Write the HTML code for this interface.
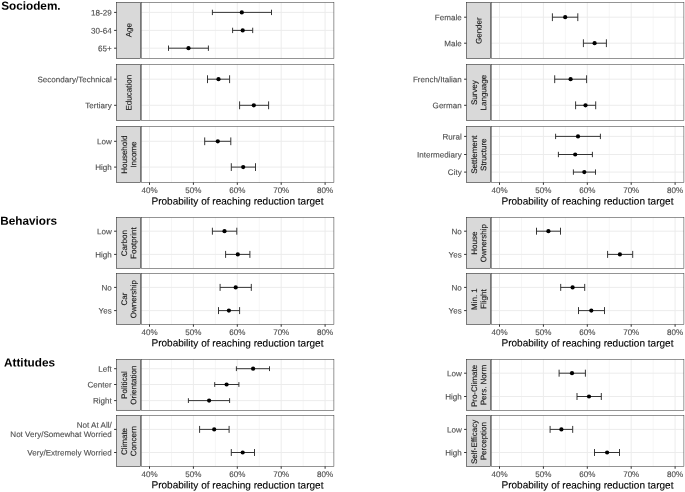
<!DOCTYPE html>
<html lang="en">
<head>
<meta charset="utf-8">
<title>Probability of reaching reduction target</title>
<style>
html,body{margin:0;padding:0;background:#fff;}
body{width:685px;height:492px;overflow:hidden;font-family:"Liberation Sans",Arial,Helvetica,sans-serif;}
svg{display:block;will-change:transform;}
svg text{text-rendering:geometricPrecision;}
svg text.a{stroke:#4d4d4d;stroke-width:0.12px;}
svg text.s{stroke:#1a1a1a;stroke-width:0.12px;}
svg text.t{stroke:#000;stroke-width:0.12px;}
</style>
</head>
<body>
<svg width="685" height="492" viewBox="0 0 685 492" font-family="'Liberation Sans', Arial, Helvetica, sans-serif">
<rect width="685" height="492" fill="#ffffff"/>
<text transform="translate(1.2,9.7) rotate(0.03)" font-size="11.75" font-weight="bold" fill="#000">Sociodem.</text>
<text transform="translate(0.3,224.8) rotate(0.03)" font-size="11.75" font-weight="bold" fill="#000">Behaviors</text>
<text transform="translate(4.05,366.6) rotate(0.03)" font-size="11.75" font-weight="bold" fill="#000">Attitudes</text>
<g transform="translate(0,0)">
<rect x="141.25" y="2.5" width="192.65" height="55.95" fill="#fff"/>
<path d="M171.45 2.5V58.45M215.35 2.5V58.45M259.25 2.5V58.45M303.15 2.5V58.45" stroke="#ebebeb" stroke-width="0.5" fill="none"/>
<path d="M149.5 2.5V58.45M193.4 2.5V58.45M237.3 2.5V58.45M281.2 2.5V58.45M325.1 2.5V58.45M141.25 12.4H333.9M141.25 30.4H333.9M141.25 48.2H333.9" stroke="#ebebeb" stroke-width="0.95" fill="none"/>
<path d="M212.4 12.4H271.5M212.4 9.71V15.09M271.5 9.71V15.09M232.6 30.4H252.7M232.6 27.71V33.09M252.7 27.71V33.09M168.5 48.2H208.4M168.5 45.52V50.89M208.4 45.52V50.89" stroke="#2b2b2b" stroke-width="0.95" fill="none"/>
<circle cx="241.8" cy="12.4" r="2.1" fill="#000"/>
<circle cx="242.7" cy="30.4" r="2.1" fill="#000"/>
<circle cx="188.5" cy="48.2" r="2.1" fill="#000"/>
<rect x="116.5" y="2.5" width="24" height="55.95" fill="#d9d9d9" stroke="#333333" stroke-width="0.62"/>
<rect x="141.25" y="2.5" width="192.65" height="55.95" fill="none" stroke="#333333" stroke-width="0.52"/>
<text transform="translate(131.4,30.18) rotate(-89.97)" class="s" text-anchor="middle" font-size="8.0" fill="#1a1a1a">Age</text>
<path d="M114.1 12.4H116.5M114.1 30.4H116.5M114.1 48.2H116.5" stroke="#333333" stroke-width="1.0" fill="none"/>
<text transform="translate(111.7,15.4) rotate(0.03)" class="a" text-anchor="end" font-size="8.06" fill="#4d4d4d">18-29</text>
<text transform="translate(111.7,33.4) rotate(0.03)" class="a" text-anchor="end" font-size="8.06" fill="#4d4d4d">30-64</text>
<text transform="translate(111.7,51.2) rotate(0.03)" class="a" text-anchor="end" font-size="8.06" fill="#4d4d4d">65+</text>
<rect x="141.25" y="64.5" width="192.65" height="55.95" fill="#fff"/>
<path d="M171.45 64.5V120.45M215.35 64.5V120.45M259.25 64.5V120.45M303.15 64.5V120.45" stroke="#ebebeb" stroke-width="0.5" fill="none"/>
<path d="M149.5 64.5V120.45M193.4 64.5V120.45M237.3 64.5V120.45M281.2 64.5V120.45M325.1 64.5V120.45M141.25 79.2H333.9M141.25 105.3H333.9" stroke="#ebebeb" stroke-width="0.95" fill="none"/>
<path d="M207.5 79.2H229.6M207.5 75.28V83.12M229.6 75.28V83.12M239.6 105.3H268.6M239.6 101.38V109.22M268.6 101.38V109.22" stroke="#2b2b2b" stroke-width="0.95" fill="none"/>
<circle cx="218.5" cy="79.2" r="2.1" fill="#000"/>
<circle cx="253.8" cy="105.3" r="2.1" fill="#000"/>
<rect x="116.5" y="64.5" width="24" height="55.95" fill="#d9d9d9" stroke="#333333" stroke-width="0.62"/>
<rect x="141.25" y="64.5" width="192.65" height="55.95" fill="none" stroke="#333333" stroke-width="0.52"/>
<text transform="translate(131.4,92.67) rotate(-89.97)" class="s" text-anchor="middle" font-size="8.0" fill="#1a1a1a">Education</text>
<path d="M114.1 79.2H116.5M114.1 105.3H116.5" stroke="#333333" stroke-width="1.0" fill="none"/>
<text transform="translate(111.7,82.2) rotate(0.03)" class="a" text-anchor="end" font-size="8.06" fill="#4d4d4d">Secondary/Technical</text>
<text transform="translate(111.7,108.3) rotate(0.03)" class="a" text-anchor="end" font-size="8.06" fill="#4d4d4d">Tertiary</text>
<rect x="141.25" y="126.45" width="192.65" height="56" fill="#fff"/>
<path d="M171.45 126.45V182.45M215.35 126.45V182.45M259.25 126.45V182.45M303.15 126.45V182.45" stroke="#ebebeb" stroke-width="0.5" fill="none"/>
<path d="M149.5 126.45V182.45M193.4 126.45V182.45M237.3 126.45V182.45M281.2 126.45V182.45M325.1 126.45V182.45M141.25 141.3H333.9M141.25 167.1H333.9" stroke="#ebebeb" stroke-width="0.95" fill="none"/>
<path d="M204.7 141.3H230.8M204.7 137.43V145.17M230.8 137.43V145.17M231.3 167.1H255.5M231.3 163.23V170.97M255.5 163.23V170.97" stroke="#2b2b2b" stroke-width="0.95" fill="none"/>
<circle cx="217.8" cy="141.3" r="2.1" fill="#000"/>
<circle cx="243.2" cy="167.1" r="2.1" fill="#000"/>
<rect x="116.5" y="126.45" width="24" height="56" fill="#d9d9d9" stroke="#333333" stroke-width="0.62"/>
<rect x="141.25" y="126.45" width="192.65" height="56" fill="none" stroke="#333333" stroke-width="0.52"/>
<text transform="translate(127.1,154.65) rotate(-89.97)" class="s" text-anchor="middle" font-size="8.0" fill="#1a1a1a">Household</text>
<text transform="translate(136.3,154.65) rotate(-89.97)" class="s" text-anchor="middle" font-size="8.0" fill="#1a1a1a">Income</text>
<path d="M114.1 141.3H116.5M114.1 167.1H116.5" stroke="#333333" stroke-width="1.0" fill="none"/>
<text transform="translate(111.7,144.3) rotate(0.03)" class="a" text-anchor="end" font-size="8.06" fill="#4d4d4d">Low</text>
<text transform="translate(111.7,170.1) rotate(0.03)" class="a" text-anchor="end" font-size="8.06" fill="#4d4d4d">High</text>
<path d="M149.5 182.45V184.85M193.4 182.45V184.85M237.3 182.45V184.85M281.2 182.45V184.85M325.1 182.45V184.85" stroke="#333333" stroke-width="1.0" fill="none"/>
<text transform="translate(149.5,193.05) rotate(0.03)" class="a" text-anchor="middle" font-size="8.06" fill="#4d4d4d">40%</text>
<text transform="translate(193.4,193.05) rotate(0.03)" class="a" text-anchor="middle" font-size="8.06" fill="#4d4d4d">50%</text>
<text transform="translate(237.3,193.05) rotate(0.03)" class="a" text-anchor="middle" font-size="8.06" fill="#4d4d4d">60%</text>
<text transform="translate(281.2,193.05) rotate(0.03)" class="a" text-anchor="middle" font-size="8.06" fill="#4d4d4d">70%</text>
<text transform="translate(325.1,193.05) rotate(0.03)" class="a" text-anchor="middle" font-size="8.06" fill="#4d4d4d">80%</text>
<text transform="translate(237.47,204.5) rotate(0.03)" class="t" text-anchor="middle" font-size="10.06" fill="#000">Probability of reaching reduction target</text>
</g>
<g transform="translate(350,0)">
<rect x="141.25" y="2.5" width="192.65" height="55.95" fill="#fff"/>
<path d="M171.45 2.5V58.45M215.35 2.5V58.45M259.25 2.5V58.45M303.15 2.5V58.45" stroke="#ebebeb" stroke-width="0.5" fill="none"/>
<path d="M149.5 2.5V58.45M193.4 2.5V58.45M237.3 2.5V58.45M281.2 2.5V58.45M325.1 2.5V58.45M141.25 17.2H333.9M141.25 43.2H333.9" stroke="#ebebeb" stroke-width="0.95" fill="none"/>
<path d="M202.4 17.2H227.8M202.4 13.3V21.1M227.8 13.3V21.1M233.4 43.2H256.4M233.4 39.3V47.1M256.4 39.3V47.1" stroke="#2b2b2b" stroke-width="0.95" fill="none"/>
<circle cx="215.2" cy="17.2" r="2.1" fill="#000"/>
<circle cx="244.6" cy="43.2" r="2.1" fill="#000"/>
<rect x="116.5" y="2.5" width="24" height="55.95" fill="#d9d9d9" stroke="#333333" stroke-width="0.62"/>
<rect x="141.25" y="2.5" width="192.65" height="55.95" fill="none" stroke="#333333" stroke-width="0.52"/>
<text transform="translate(131.4,30.68) rotate(-89.97)" class="s" text-anchor="middle" font-size="8.0" fill="#1a1a1a">Gender</text>
<path d="M114.1 17.2H116.5M114.1 43.2H116.5" stroke="#333333" stroke-width="1.0" fill="none"/>
<text transform="translate(111.7,20.2) rotate(0.03)" class="a" text-anchor="end" font-size="8.06" fill="#4d4d4d">Female</text>
<text transform="translate(111.7,46.2) rotate(0.03)" class="a" text-anchor="end" font-size="8.06" fill="#4d4d4d">Male</text>
<rect x="141.25" y="64.5" width="192.65" height="55.95" fill="#fff"/>
<path d="M171.45 64.5V120.45M215.35 64.5V120.45M259.25 64.5V120.45M303.15 64.5V120.45" stroke="#ebebeb" stroke-width="0.5" fill="none"/>
<path d="M149.5 64.5V120.45M193.4 64.5V120.45M237.3 64.5V120.45M281.2 64.5V120.45M325.1 64.5V120.45M141.25 79.2H333.9M141.25 105.3H333.9" stroke="#ebebeb" stroke-width="0.95" fill="none"/>
<path d="M204.7 79.2H236.6M204.7 75.28V83.12M236.6 75.28V83.12M225.6 105.3H245.7M225.6 101.38V109.22M245.7 101.38V109.22" stroke="#2b2b2b" stroke-width="0.95" fill="none"/>
<circle cx="220.6" cy="79.2" r="2.1" fill="#000"/>
<circle cx="235.5" cy="105.3" r="2.1" fill="#000"/>
<rect x="116.5" y="64.5" width="24" height="55.95" fill="#d9d9d9" stroke="#333333" stroke-width="0.62"/>
<rect x="141.25" y="64.5" width="192.65" height="55.95" fill="none" stroke="#333333" stroke-width="0.52"/>
<text transform="translate(127.1,92.67) rotate(-89.97)" class="s" text-anchor="middle" font-size="8.0" fill="#1a1a1a">Survey</text>
<text transform="translate(136.3,92.67) rotate(-89.97)" class="s" text-anchor="middle" font-size="8.0" fill="#1a1a1a">Language</text>
<path d="M114.1 79.2H116.5M114.1 105.3H116.5" stroke="#333333" stroke-width="1.0" fill="none"/>
<text transform="translate(111.7,82.2) rotate(0.03)" class="a" text-anchor="end" font-size="8.06" fill="#4d4d4d">French/Italian</text>
<text transform="translate(111.7,108.3) rotate(0.03)" class="a" text-anchor="end" font-size="8.06" fill="#4d4d4d">German</text>
<rect x="141.25" y="126.45" width="192.65" height="56" fill="#fff"/>
<path d="M171.45 126.45V182.45M215.35 126.45V182.45M259.25 126.45V182.45M303.15 126.45V182.45" stroke="#ebebeb" stroke-width="0.5" fill="none"/>
<path d="M149.5 126.45V182.45M193.4 126.45V182.45M237.3 126.45V182.45M281.2 126.45V182.45M325.1 126.45V182.45M141.25 136.4H333.9M141.25 154.5H333.9M141.25 172.1H333.9" stroke="#ebebeb" stroke-width="0.95" fill="none"/>
<path d="M205.6 136.4H250.4M205.6 133.72V139.08M250.4 133.72V139.08M208.4 154.5H242.4M208.4 151.82V157.18M242.4 151.82V157.18M223.4 172.1H245.5M223.4 169.42V174.78M245.5 169.42V174.78" stroke="#2b2b2b" stroke-width="0.95" fill="none"/>
<circle cx="228" cy="136.4" r="2.1" fill="#000"/>
<circle cx="225.2" cy="154.5" r="2.1" fill="#000"/>
<circle cx="234.3" cy="172.1" r="2.1" fill="#000"/>
<rect x="116.5" y="126.45" width="24" height="56" fill="#d9d9d9" stroke="#333333" stroke-width="0.62"/>
<rect x="141.25" y="126.45" width="192.65" height="56" fill="none" stroke="#333333" stroke-width="0.52"/>
<text transform="translate(127.1,154.65) rotate(-89.97)" class="s" text-anchor="middle" font-size="8.0" fill="#1a1a1a">Settlement</text>
<text transform="translate(136.3,154.65) rotate(-89.97)" class="s" text-anchor="middle" font-size="8.0" fill="#1a1a1a">Structure</text>
<path d="M114.1 136.4H116.5M114.1 154.5H116.5M114.1 172.1H116.5" stroke="#333333" stroke-width="1.0" fill="none"/>
<text transform="translate(111.7,139.4) rotate(0.03)" class="a" text-anchor="end" font-size="8.06" fill="#4d4d4d">Rural</text>
<text transform="translate(111.7,157.5) rotate(0.03)" class="a" text-anchor="end" font-size="8.06" fill="#4d4d4d">Intermediary</text>
<text transform="translate(111.7,175.1) rotate(0.03)" class="a" text-anchor="end" font-size="8.06" fill="#4d4d4d">City</text>
<path d="M149.5 182.45V184.85M193.4 182.45V184.85M237.3 182.45V184.85M281.2 182.45V184.85M325.1 182.45V184.85" stroke="#333333" stroke-width="1.0" fill="none"/>
<text transform="translate(149.5,193.05) rotate(0.03)" class="a" text-anchor="middle" font-size="8.06" fill="#4d4d4d">40%</text>
<text transform="translate(193.4,193.05) rotate(0.03)" class="a" text-anchor="middle" font-size="8.06" fill="#4d4d4d">50%</text>
<text transform="translate(237.3,193.05) rotate(0.03)" class="a" text-anchor="middle" font-size="8.06" fill="#4d4d4d">60%</text>
<text transform="translate(281.2,193.05) rotate(0.03)" class="a" text-anchor="middle" font-size="8.06" fill="#4d4d4d">70%</text>
<text transform="translate(325.1,193.05) rotate(0.03)" class="a" text-anchor="middle" font-size="8.06" fill="#4d4d4d">80%</text>
<text transform="translate(237.47,204.5) rotate(0.03)" class="t" text-anchor="middle" font-size="10.06" fill="#000">Probability of reaching reduction target</text>
</g>
<g transform="translate(0,0)">
<rect x="141.25" y="217.5" width="192.65" height="50.8" fill="#fff"/>
<path d="M171.45 217.5V268.3M215.35 217.5V268.3M259.25 217.5V268.3M303.15 217.5V268.3" stroke="#ebebeb" stroke-width="0.5" fill="none"/>
<path d="M149.5 217.5V268.3M193.4 217.5V268.3M237.3 217.5V268.3M281.2 217.5V268.3M325.1 217.5V268.3M141.25 231.2H333.9M141.25 254.4H333.9" stroke="#ebebeb" stroke-width="0.95" fill="none"/>
<path d="M212.4 231.2H236.8M212.4 227.72V234.68M236.8 227.72V234.68M225.6 254.4H249.9M225.6 250.92V257.88M249.9 250.92V257.88" stroke="#2b2b2b" stroke-width="0.95" fill="none"/>
<circle cx="224.5" cy="231.2" r="2.1" fill="#000"/>
<circle cx="237.8" cy="254.4" r="2.1" fill="#000"/>
<rect x="116.5" y="217.5" width="24" height="50.8" fill="#d9d9d9" stroke="#333333" stroke-width="0.62"/>
<rect x="141.25" y="217.5" width="192.65" height="50.8" fill="none" stroke="#333333" stroke-width="0.52"/>
<text transform="translate(127.1,243.1) rotate(-89.97)" class="s" text-anchor="middle" font-size="8.0" fill="#1a1a1a">Carbon</text>
<text transform="translate(136.3,243.1) rotate(-89.97)" class="s" text-anchor="middle" font-size="8.0" fill="#1a1a1a">Footprint</text>
<path d="M114.1 231.2H116.5M114.1 254.4H116.5" stroke="#333333" stroke-width="1.0" fill="none"/>
<text transform="translate(111.7,234.2) rotate(0.03)" class="a" text-anchor="end" font-size="8.06" fill="#4d4d4d">Low</text>
<text transform="translate(111.7,257.4) rotate(0.03)" class="a" text-anchor="end" font-size="8.06" fill="#4d4d4d">High</text>
<rect x="141.25" y="273.45" width="192.65" height="50.9" fill="#fff"/>
<path d="M171.45 273.45V324.35M215.35 273.45V324.35M259.25 273.45V324.35M303.15 273.45V324.35" stroke="#ebebeb" stroke-width="0.5" fill="none"/>
<path d="M149.5 273.45V324.35M193.4 273.45V324.35M237.3 273.45V324.35M281.2 273.45V324.35M325.1 273.45V324.35M141.25 287.4H333.9M141.25 310.6H333.9" stroke="#ebebeb" stroke-width="0.95" fill="none"/>
<path d="M220.1 287.4H251.3M220.1 283.92V290.88M251.3 283.92V290.88M218.5 310.6H239.6M218.5 307.12V314.08M239.6 307.12V314.08" stroke="#2b2b2b" stroke-width="0.95" fill="none"/>
<circle cx="235.7" cy="287.4" r="2.1" fill="#000"/>
<circle cx="228.9" cy="310.6" r="2.1" fill="#000"/>
<rect x="116.5" y="273.45" width="24" height="50.9" fill="#d9d9d9" stroke="#333333" stroke-width="0.62"/>
<rect x="141.25" y="273.45" width="192.65" height="50.9" fill="none" stroke="#333333" stroke-width="0.52"/>
<text transform="translate(127.1,299.1) rotate(-89.97)" class="s" text-anchor="middle" font-size="8.0" fill="#1a1a1a">Car</text>
<text transform="translate(136.3,299.1) rotate(-89.97)" class="s" text-anchor="middle" font-size="8.0" fill="#1a1a1a">Ownership</text>
<path d="M114.1 287.4H116.5M114.1 310.6H116.5" stroke="#333333" stroke-width="1.0" fill="none"/>
<text transform="translate(111.7,290.4) rotate(0.03)" class="a" text-anchor="end" font-size="8.06" fill="#4d4d4d">No</text>
<text transform="translate(111.7,313.6) rotate(0.03)" class="a" text-anchor="end" font-size="8.06" fill="#4d4d4d">Yes</text>
<path d="M149.5 324.35V326.75M193.4 324.35V326.75M237.3 324.35V326.75M281.2 324.35V326.75M325.1 324.35V326.75" stroke="#333333" stroke-width="1.0" fill="none"/>
<text transform="translate(149.5,334.95) rotate(0.03)" class="a" text-anchor="middle" font-size="8.06" fill="#4d4d4d">40%</text>
<text transform="translate(193.4,334.95) rotate(0.03)" class="a" text-anchor="middle" font-size="8.06" fill="#4d4d4d">50%</text>
<text transform="translate(237.3,334.95) rotate(0.03)" class="a" text-anchor="middle" font-size="8.06" fill="#4d4d4d">60%</text>
<text transform="translate(281.2,334.95) rotate(0.03)" class="a" text-anchor="middle" font-size="8.06" fill="#4d4d4d">70%</text>
<text transform="translate(325.1,334.95) rotate(0.03)" class="a" text-anchor="middle" font-size="8.06" fill="#4d4d4d">80%</text>
<text transform="translate(237.47,346.4) rotate(0.03)" class="t" text-anchor="middle" font-size="10.06" fill="#000">Probability of reaching reduction target</text>
</g>
<g transform="translate(350,0)">
<rect x="141.25" y="217.5" width="192.65" height="50.8" fill="#fff"/>
<path d="M171.45 217.5V268.3M215.35 217.5V268.3M259.25 217.5V268.3M303.15 217.5V268.3" stroke="#ebebeb" stroke-width="0.5" fill="none"/>
<path d="M149.5 217.5V268.3M193.4 217.5V268.3M237.3 217.5V268.3M281.2 217.5V268.3M325.1 217.5V268.3M141.25 231.2H333.9M141.25 254.4H333.9" stroke="#ebebeb" stroke-width="0.95" fill="none"/>
<path d="M186.5 231.2H210.5M186.5 227.72V234.68M210.5 227.72V234.68M257.6 254.4H282.7M257.6 250.92V257.88M282.7 250.92V257.88" stroke="#2b2b2b" stroke-width="0.95" fill="none"/>
<circle cx="198.4" cy="231.2" r="2.1" fill="#000"/>
<circle cx="269.9" cy="254.4" r="2.1" fill="#000"/>
<rect x="116.5" y="217.5" width="24" height="50.8" fill="#d9d9d9" stroke="#333333" stroke-width="0.62"/>
<rect x="141.25" y="217.5" width="192.65" height="50.8" fill="none" stroke="#333333" stroke-width="0.52"/>
<text transform="translate(127.1,243.1) rotate(-89.97)" class="s" text-anchor="middle" font-size="8.0" fill="#1a1a1a">House</text>
<text transform="translate(136.3,243.1) rotate(-89.97)" class="s" text-anchor="middle" font-size="8.0" fill="#1a1a1a">Ownership</text>
<path d="M114.1 231.2H116.5M114.1 254.4H116.5" stroke="#333333" stroke-width="1.0" fill="none"/>
<text transform="translate(111.7,234.2) rotate(0.03)" class="a" text-anchor="end" font-size="8.06" fill="#4d4d4d">No</text>
<text transform="translate(111.7,257.4) rotate(0.03)" class="a" text-anchor="end" font-size="8.06" fill="#4d4d4d">Yes</text>
<rect x="141.25" y="273.45" width="192.65" height="50.9" fill="#fff"/>
<path d="M171.45 273.45V324.35M215.35 273.45V324.35M259.25 273.45V324.35M303.15 273.45V324.35" stroke="#ebebeb" stroke-width="0.5" fill="none"/>
<path d="M149.5 273.45V324.35M193.4 273.45V324.35M237.3 273.45V324.35M281.2 273.45V324.35M325.1 273.45V324.35M141.25 287.4H333.9M141.25 310.6H333.9" stroke="#ebebeb" stroke-width="0.95" fill="none"/>
<path d="M210.7 287.4H234.7M210.7 283.92V290.88M234.7 283.92V290.88M228.5 310.6H254.5M228.5 307.12V314.08M254.5 307.12V314.08" stroke="#2b2b2b" stroke-width="0.95" fill="none"/>
<circle cx="222.6" cy="287.4" r="2.1" fill="#000"/>
<circle cx="241.3" cy="310.6" r="2.1" fill="#000"/>
<rect x="116.5" y="273.45" width="24" height="50.9" fill="#d9d9d9" stroke="#333333" stroke-width="0.62"/>
<rect x="141.25" y="273.45" width="192.65" height="50.9" fill="none" stroke="#333333" stroke-width="0.52"/>
<text transform="translate(127.1,299.1) rotate(-89.97)" class="s" text-anchor="middle" font-size="8.0" fill="#1a1a1a">Min. 1</text>
<text transform="translate(136.3,299.1) rotate(-89.97)" class="s" text-anchor="middle" font-size="8.0" fill="#1a1a1a">Flight</text>
<path d="M114.1 287.4H116.5M114.1 310.6H116.5" stroke="#333333" stroke-width="1.0" fill="none"/>
<text transform="translate(111.7,290.4) rotate(0.03)" class="a" text-anchor="end" font-size="8.06" fill="#4d4d4d">No</text>
<text transform="translate(111.7,313.6) rotate(0.03)" class="a" text-anchor="end" font-size="8.06" fill="#4d4d4d">Yes</text>
<path d="M149.5 324.35V326.75M193.4 324.35V326.75M237.3 324.35V326.75M281.2 324.35V326.75M325.1 324.35V326.75" stroke="#333333" stroke-width="1.0" fill="none"/>
<text transform="translate(149.5,334.95) rotate(0.03)" class="a" text-anchor="middle" font-size="8.06" fill="#4d4d4d">40%</text>
<text transform="translate(193.4,334.95) rotate(0.03)" class="a" text-anchor="middle" font-size="8.06" fill="#4d4d4d">50%</text>
<text transform="translate(237.3,334.95) rotate(0.03)" class="a" text-anchor="middle" font-size="8.06" fill="#4d4d4d">60%</text>
<text transform="translate(281.2,334.95) rotate(0.03)" class="a" text-anchor="middle" font-size="8.06" fill="#4d4d4d">70%</text>
<text transform="translate(325.1,334.95) rotate(0.03)" class="a" text-anchor="middle" font-size="8.06" fill="#4d4d4d">80%</text>
<text transform="translate(237.47,346.4) rotate(0.03)" class="t" text-anchor="middle" font-size="10.06" fill="#000">Probability of reaching reduction target</text>
</g>
<g transform="translate(0,0)">
<rect x="141.25" y="359.5" width="192.65" height="50.8" fill="#fff"/>
<path d="M171.45 359.5V410.3M215.35 359.5V410.3M259.25 359.5V410.3M303.15 359.5V410.3" stroke="#ebebeb" stroke-width="0.5" fill="none"/>
<path d="M149.5 359.5V410.3M193.4 359.5V410.3M237.3 359.5V410.3M281.2 359.5V410.3M325.1 359.5V410.3M141.25 368.7H333.9M141.25 384.5H333.9M141.25 400.6H333.9" stroke="#ebebeb" stroke-width="0.95" fill="none"/>
<path d="M236.4 368.7H269.5M236.4 366.31V371.09M269.5 366.31V371.09M214.7 384.5H238.9M214.7 382.11V386.89M238.9 382.11V386.89M188.4 400.6H229.6M188.4 398.21V402.99M229.6 398.21V402.99" stroke="#2b2b2b" stroke-width="0.95" fill="none"/>
<circle cx="253.1" cy="368.7" r="2.1" fill="#000"/>
<circle cx="226.6" cy="384.5" r="2.1" fill="#000"/>
<circle cx="209.1" cy="400.6" r="2.1" fill="#000"/>
<rect x="116.5" y="359.5" width="24" height="50.8" fill="#d9d9d9" stroke="#333333" stroke-width="0.62"/>
<rect x="141.25" y="359.5" width="192.65" height="50.8" fill="none" stroke="#333333" stroke-width="0.52"/>
<text transform="translate(127.1,385.1) rotate(-89.97)" class="s" text-anchor="middle" font-size="8.0" fill="#1a1a1a">Political</text>
<text transform="translate(136.3,385.1) rotate(-89.97)" class="s" text-anchor="middle" font-size="8.0" fill="#1a1a1a">Orientation</text>
<path d="M114.1 368.7H116.5M114.1 384.5H116.5M114.1 400.6H116.5" stroke="#333333" stroke-width="1.0" fill="none"/>
<text transform="translate(111.7,371.7) rotate(0.03)" class="a" text-anchor="end" font-size="8.06" fill="#4d4d4d">Left</text>
<text transform="translate(111.7,387.5) rotate(0.03)" class="a" text-anchor="end" font-size="8.06" fill="#4d4d4d">Center</text>
<text transform="translate(111.7,403.6) rotate(0.03)" class="a" text-anchor="end" font-size="8.06" fill="#4d4d4d">Right</text>
<rect x="141.25" y="415.45" width="192.65" height="50.9" fill="#fff"/>
<path d="M171.45 415.45V466.35M215.35 415.45V466.35M259.25 415.45V466.35M303.15 415.45V466.35" stroke="#ebebeb" stroke-width="0.5" fill="none"/>
<path d="M149.5 415.45V466.35M193.4 415.45V466.35M237.3 415.45V466.35M281.2 415.45V466.35M325.1 415.45V466.35M141.25 429.4H333.9M141.25 452.5H333.9" stroke="#ebebeb" stroke-width="0.95" fill="none"/>
<path d="M199.6 429.4H229.1M199.6 425.93V432.87M229.1 425.93V432.87M231.3 452.5H254.5M231.3 449.03V455.97M254.5 449.03V455.97" stroke="#2b2b2b" stroke-width="0.95" fill="none"/>
<circle cx="214.2" cy="429.4" r="2.1" fill="#000"/>
<circle cx="242.7" cy="452.5" r="2.1" fill="#000"/>
<rect x="116.5" y="415.45" width="24" height="50.9" fill="#d9d9d9" stroke="#333333" stroke-width="0.62"/>
<rect x="141.25" y="415.45" width="192.65" height="50.9" fill="none" stroke="#333333" stroke-width="0.52"/>
<text transform="translate(127.1,441.5) rotate(-89.97)" class="s" text-anchor="middle" font-size="8.0" fill="#1a1a1a">Climate</text>
<text transform="translate(136.3,441.1) rotate(-89.97)" class="s" text-anchor="middle" font-size="8.0" fill="#1a1a1a">Concern</text>
<path d="M114.1 429.4H116.5M114.1 452.5H116.5" stroke="#333333" stroke-width="1.0" fill="none"/>
<text transform="translate(111.7,427.8) rotate(0.03)" class="a" text-anchor="end" font-size="8.06" fill="#4d4d4d">Not At All/</text>
<text transform="translate(111.7,437) rotate(0.03)" class="a" text-anchor="end" font-size="8.06" fill="#4d4d4d">Not Very/Somewhat Worried</text>
<text transform="translate(111.7,455.5) rotate(0.03)" class="a" text-anchor="end" font-size="8.06" fill="#4d4d4d">Very/Extremely Worried</text>
<path d="M149.5 466.35V468.75M193.4 466.35V468.75M237.3 466.35V468.75M281.2 466.35V468.75M325.1 466.35V468.75" stroke="#333333" stroke-width="1.0" fill="none"/>
<text transform="translate(149.5,476.95) rotate(0.03)" class="a" text-anchor="middle" font-size="8.06" fill="#4d4d4d">40%</text>
<text transform="translate(193.4,476.95) rotate(0.03)" class="a" text-anchor="middle" font-size="8.06" fill="#4d4d4d">50%</text>
<text transform="translate(237.3,476.95) rotate(0.03)" class="a" text-anchor="middle" font-size="8.06" fill="#4d4d4d">60%</text>
<text transform="translate(281.2,476.95) rotate(0.03)" class="a" text-anchor="middle" font-size="8.06" fill="#4d4d4d">70%</text>
<text transform="translate(325.1,476.95) rotate(0.03)" class="a" text-anchor="middle" font-size="8.06" fill="#4d4d4d">80%</text>
<text transform="translate(237.47,488.4) rotate(0.03)" class="t" text-anchor="middle" font-size="10.06" fill="#000">Probability of reaching reduction target</text>
</g>
<g transform="translate(350,0)">
<rect x="141.25" y="359.5" width="192.65" height="50.8" fill="#fff"/>
<path d="M171.45 359.5V410.3M215.35 359.5V410.3M259.25 359.5V410.3M303.15 359.5V410.3" stroke="#ebebeb" stroke-width="0.5" fill="none"/>
<path d="M149.5 359.5V410.3M193.4 359.5V410.3M237.3 359.5V410.3M281.2 359.5V410.3M325.1 359.5V410.3M141.25 373.2H333.9M141.25 396.5H333.9" stroke="#ebebeb" stroke-width="0.95" fill="none"/>
<path d="M209.1 373.2H235.4M209.1 369.7V376.69M235.4 369.7V376.69M227 396.5H251.3M227 393V400M251.3 393V400" stroke="#2b2b2b" stroke-width="0.95" fill="none"/>
<circle cx="222" cy="373.2" r="2.1" fill="#000"/>
<circle cx="239" cy="396.5" r="2.1" fill="#000"/>
<rect x="116.5" y="359.5" width="24" height="50.8" fill="#d9d9d9" stroke="#333333" stroke-width="0.62"/>
<rect x="141.25" y="359.5" width="192.65" height="50.8" fill="none" stroke="#333333" stroke-width="0.52"/>
<text transform="translate(127.1,386) rotate(-89.97)" class="s" text-anchor="middle" font-size="8.0" fill="#1a1a1a">Pro-Climate</text>
<text transform="translate(136.3,385.1) rotate(-89.97)" class="s" text-anchor="middle" font-size="8.0" fill="#1a1a1a">Pers. Norm</text>
<path d="M114.1 373.2H116.5M114.1 396.5H116.5" stroke="#333333" stroke-width="1.0" fill="none"/>
<text transform="translate(111.7,376.2) rotate(0.03)" class="a" text-anchor="end" font-size="8.06" fill="#4d4d4d">Low</text>
<text transform="translate(111.7,399.5) rotate(0.03)" class="a" text-anchor="end" font-size="8.06" fill="#4d4d4d">High</text>
<rect x="141.25" y="415.45" width="192.65" height="50.9" fill="#fff"/>
<path d="M171.45 415.45V466.35M215.35 415.45V466.35M259.25 415.45V466.35M303.15 415.45V466.35" stroke="#ebebeb" stroke-width="0.5" fill="none"/>
<path d="M149.5 415.45V466.35M193.4 415.45V466.35M237.3 415.45V466.35M281.2 415.45V466.35M325.1 415.45V466.35M141.25 429.4H333.9M141.25 452.5H333.9" stroke="#ebebeb" stroke-width="0.95" fill="none"/>
<path d="M200.1 429.4H222.7M200.1 425.93V432.87M222.7 425.93V432.87M244.5 452.5H269.5M244.5 449.03V455.97M269.5 449.03V455.97" stroke="#2b2b2b" stroke-width="0.95" fill="none"/>
<circle cx="211.4" cy="429.4" r="2.1" fill="#000"/>
<circle cx="257.1" cy="452.5" r="2.1" fill="#000"/>
<rect x="116.5" y="415.45" width="24" height="50.9" fill="#d9d9d9" stroke="#333333" stroke-width="0.62"/>
<rect x="141.25" y="415.45" width="192.65" height="50.9" fill="none" stroke="#333333" stroke-width="0.52"/>
<text transform="translate(127.1,441.9) rotate(-89.97)" class="s" text-anchor="middle" font-size="8.0" fill="#1a1a1a">Self-Efficacy</text>
<text transform="translate(136.3,441.1) rotate(-89.97)" class="s" text-anchor="middle" font-size="8.0" fill="#1a1a1a">Perception</text>
<path d="M114.1 429.4H116.5M114.1 452.5H116.5" stroke="#333333" stroke-width="1.0" fill="none"/>
<text transform="translate(111.7,432.4) rotate(0.03)" class="a" text-anchor="end" font-size="8.06" fill="#4d4d4d">Low</text>
<text transform="translate(111.7,455.5) rotate(0.03)" class="a" text-anchor="end" font-size="8.06" fill="#4d4d4d">High</text>
<path d="M149.5 466.35V468.75M193.4 466.35V468.75M237.3 466.35V468.75M281.2 466.35V468.75M325.1 466.35V468.75" stroke="#333333" stroke-width="1.0" fill="none"/>
<text transform="translate(149.5,476.95) rotate(0.03)" class="a" text-anchor="middle" font-size="8.06" fill="#4d4d4d">40%</text>
<text transform="translate(193.4,476.95) rotate(0.03)" class="a" text-anchor="middle" font-size="8.06" fill="#4d4d4d">50%</text>
<text transform="translate(237.3,476.95) rotate(0.03)" class="a" text-anchor="middle" font-size="8.06" fill="#4d4d4d">60%</text>
<text transform="translate(281.2,476.95) rotate(0.03)" class="a" text-anchor="middle" font-size="8.06" fill="#4d4d4d">70%</text>
<text transform="translate(325.1,476.95) rotate(0.03)" class="a" text-anchor="middle" font-size="8.06" fill="#4d4d4d">80%</text>
<text transform="translate(237.47,488.4) rotate(0.03)" class="t" text-anchor="middle" font-size="10.06" fill="#000">Probability of reaching reduction target</text>
</g>
</svg>
</body>
</html>
